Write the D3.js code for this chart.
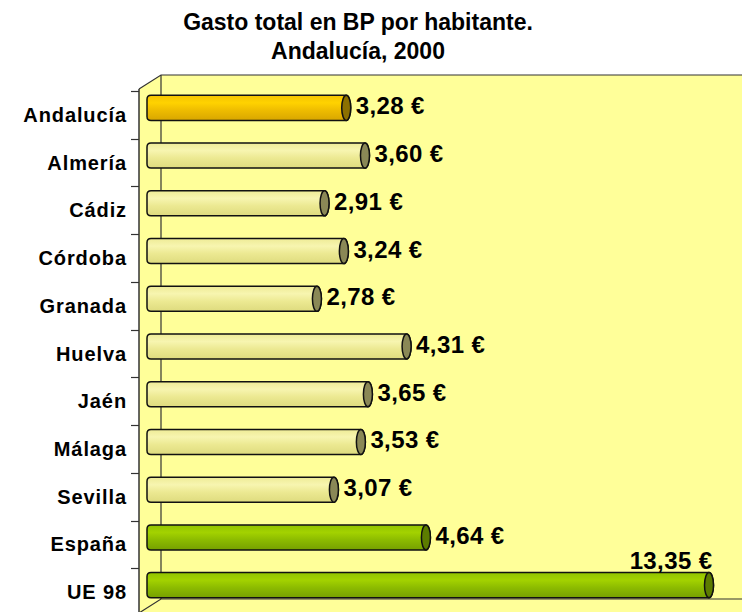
<!DOCTYPE html>
<html>
<head>
<meta charset="utf-8">
<script src="https://cdn.jsdelivr.net/npm/d3@7"></script>
<style>
  html, body { margin: 0; padding: 0; background: #ffffff; }
  svg { display: block; }
  text { font-family: "Liberation Sans", Arial, sans-serif; font-weight: bold; fill: #000; }
</style>
</head>
<body>
<svg id="chart" width="742" height="612"></svg>
<script>
// ---- data ----
const categories = ["Andalucía", "Almería", "Cádiz", "Córdoba", "Granada", "Huelva", "Jaén", "Málaga", "Sevilla", "España", "UE 98"];
const values = [3.28, 3.60, 2.91, 3.24, 2.78, 4.31, 3.65, 3.53, 3.07, 4.64, 13.35];
const valueLabels = ["3,28 €", "3,60 €", "2,91 €", "3,24 €", "2,78 €", "4,31 €", "3,65 €", "3,53 €", "3,07 €", "4,64 €", "13,35 €"];
const groups = ["region", "prov", "prov", "prov", "prov", "prov", "prov", "prov", "prov", "ref", "ref"];
const titleLines = ["Gasto total en BP por habitante.", "Andalucía, 2000"];
const axisMax = 9.47;

// ---- layout ----
const W = 742, H = 612;
const frontX = 139, depthX = 22, depthY = 14;
const backX = frontX + depthX;
const backTop = 75, backBottom = 599;
const svg = d3.select("#chart");

const x = d3.scaleLinear().domain([0, axisMax]).range([158.5, 713.5]).clamp(true);
const y = d3.scaleBand().domain(categories).range([91, 616]).paddingInner(0.475).paddingOuter(0.2375);

const palettes = {
  region: { stops: ["#F5C400", "#FFD200", "#EEBC00", "#D8A600"], cap: "#8C7000" },
  prov:   { stops: ["#EEEB96", "#F7F5B0", "#ECE992", "#DEDB7E"], cap: "#8A8856" },
  ref:    { stops: ["#92C400", "#A3D200", "#8CBB00", "#76A000"], cap: "#5C7C00" }
};

const defs = svg.append("defs");
Object.entries(palettes).forEach(([k, p]) => {
  const g = defs.append("linearGradient").attr("id", "g-" + k)
    .attr("x1", 0).attr("y1", 0).attr("x2", 0).attr("y2", 1);
  [0, 0.3, 0.6, 1].forEach((o, i) => g.append("stop").attr("offset", o).attr("stop-color", p.stops[i]));
});

// plot background (walls + floor)
svg.append("path")
  .attr("d", `M${frontX},${backTop + depthY} L${backX},${backTop} L${W},${backTop} L${W},${H} L${frontX},${H} Z`)
  .attr("fill", "#FFFF99");

const lineCol = "#333";
svg.append("path").attr("d", `M${frontX},${backTop + depthY} L${backX},${backTop} L${W},${backTop}`)
  .attr("fill", "none").attr("stroke", lineCol).attr("stroke-width", 1.2);
svg.append("line").attr("x1", backX).attr("x2", backX).attr("y1", backTop).attr("y2", backBottom)
  .attr("stroke", lineCol).attr("stroke-width", 1.2);
svg.append("path").attr("d", `M${frontX},${backBottom + depthY} L${backX},${backBottom} L${W},${backBottom}`)
  .attr("fill", "none").attr("stroke", lineCol).attr("stroke-width", 1.2);
svg.append("line").attr("x1", frontX).attr("x2", frontX).attr("y1", backTop + depthY).attr("y2", H)
  .attr("stroke", lineCol).attr("stroke-width", 1.5);

// ticks at band boundaries
const step = y.step();
const y0 = y.range()[0];
d3.range(categories.length + 1).forEach(k => {
  const ty = Math.round(y0 + step * k) + 0.5;
  svg.append("line").attr("x1", frontX - 8).attr("x2", frontX).attr("y1", ty).attr("y2", ty)
    .attr("stroke", lineCol).attr("stroke-width", 1.2);
});

// category labels
svg.selectAll("text.cat").data(categories).join("text")
  .attr("class", "cat")
  .attr("x", 127)
  .attr("y", d => y(d) + y.bandwidth() / 2)
  .attr("dominant-baseline", "central")
  .attr("text-anchor", "end")
  .attr("font-size", 20)
  .attr("letter-spacing", 0.9)
  .text(d => d);

// bars
const rx = 4.5, r = 4;
const barLeft = x(0) - 11.5;
const bars = svg.selectAll("g.bar").data(categories).join("g").attr("class", "bar");
bars.each(function (c, i) {
  const g = d3.select(this);
  const top = y(c) - 7, bh = y.bandwidth(), bot = top + bh, ry = bh / 2;
  const xR = x(values[i]), xc = xR - rx;
  const p = palettes[groups[i]];
  g.append("path")
    .attr("d", `M${barLeft + r},${top} H${xc} A${rx},${ry} 0 0 1 ${xc},${bot} H${barLeft + r} Q${barLeft},${bot} ${barLeft},${bot - r} V${top + r} Q${barLeft},${top} ${barLeft + r},${top} Z`)
    .attr("fill", `url(#g-${groups[i]})`).attr("stroke", "#111").attr("stroke-width", 1.5);
  g.append("ellipse").attr("cx", xc).attr("cy", top + ry).attr("rx", rx).attr("ry", ry)
    .attr("fill", p.cap).attr("stroke", "#111").attr("stroke-width", 1.5);
  const over = values[i] > axisMax;
  g.append("text")
    .attr("x", over ? xR - 1 : xR + 5)
    .attr("y", over ? top - 4 : top + ry - 2)
    .attr("text-anchor", over ? "end" : "start")
    .attr("dominant-baseline", over ? "auto" : "central")
    .attr("font-size", 24)
    .attr("letter-spacing", 0.4)
    .text(valueLabels[i]);
});

// title
svg.selectAll("text.title").data(titleLines).join("text")
  .attr("class", "title")
  .attr("x", 358)
  .attr("y", (d, i) => 30 + i * 29)
  .attr("text-anchor", "middle")
  .attr("font-size", 23)
  .text(d => d);
</script>
</body>
</html>
